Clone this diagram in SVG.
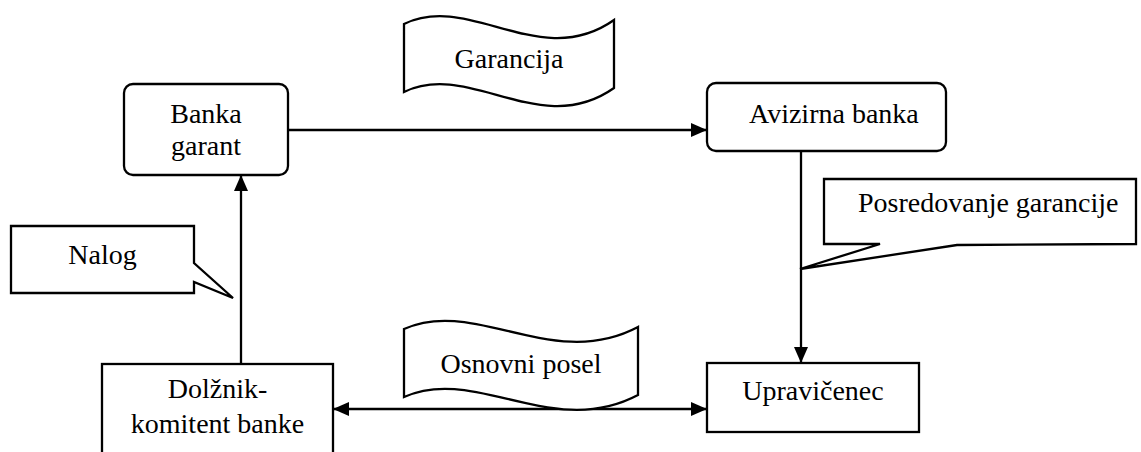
<svg xmlns="http://www.w3.org/2000/svg" width="1141" height="452" viewBox="0 0 1141 452">
  <style>
    .box { fill: #ffffff; stroke: #000000; stroke-width: 2.3; stroke-linejoin: miter; }
    .lbl { font-family: "Liberation Serif", "Times New Roman", serif; font-size: 28px; fill: #000000; }
    .mid { text-anchor: middle; }
    .wire { fill: none; stroke: #000000; stroke-width: 2.3; }
  </style>
  <defs>
    <marker id="head" viewBox="0 0 16 14" refX="16" refY="7" markerWidth="16" markerHeight="14" markerUnits="userSpaceOnUse" orient="auto-start-reverse">
      <path d="M0,0 L16,7 L0,14 Z" fill="#000000"/>
    </marker>
  </defs>

  <rect x="0" y="0" width="1141" height="452" fill="#ffffff"/>

  <!-- connectors -->
  <g id="connectors">
    <line class="wire" x1="288" y1="130" x2="707" y2="130" marker-end="url(#head)"/>
    <line class="wire" x1="801" y1="151" x2="801" y2="363" marker-end="url(#head)"/>
    <line class="wire" x1="241" y1="364" x2="241" y2="175" marker-end="url(#head)"/>
    <line class="wire" x1="333" y1="409" x2="707" y2="409" marker-start="url(#head)" marker-end="url(#head)"/>
  </g>

  <!-- bank issuing the guarantee -->
  <g id="banka-garant">
    <rect class="box" x="124" y="84" width="164" height="91" rx="9" ry="9"/>
    <text class="lbl mid" x="206" y="123">Banka</text>
    <text class="lbl mid" x="206" y="155">garant</text>
  </g>

  <!-- advising bank -->
  <g id="avizirna-banka">
    <rect class="box" x="707" y="83" width="239" height="68" rx="9" ry="9"/>
    <text class="lbl" x="749" y="123">Avizirna banka</text>
  </g>

  <!-- beneficiary -->
  <g id="upravicenec">
    <rect class="box" x="707" y="363" width="212" height="69"/>
    <text class="lbl mid" x="813" y="400">Upravičenec</text>
  </g>

  <!-- principal / bank client -->
  <g id="dolznik">
    <rect class="box" x="102" y="364" width="231" height="100"/>
    <text class="lbl mid" x="217.5" y="398">Dolžnik-</text>
    <text class="lbl mid" x="217.5" y="433">komitent banke</text>
  </g>

  <!-- wave banner: guarantee -->
  <g id="garancija">
    <path class="box" d="M404,24 C470,-8 540,72 614,20 L614,88 C540,140 470,60 404,92 Z"/>
    <text class="lbl mid" x="509" y="68">Garancija</text>
  </g>

  <!-- wave banner: underlying transaction -->
  <g id="osnovni-posel">
    <path class="box" d="M404,329 C475,297 553,372 638,327 L638,395 C553,440 475,365 404,397 Z"/>
    <text class="lbl mid" x="521" y="373">Osnovni posel</text>
  </g>

  <!-- callout: order -->
  <g id="nalog">
    <path class="box" d="M11,226 L194,226 L194,263 L233,298 L194,282 L194,293 L11,293 Z"/>
    <text class="lbl mid" x="102.5" y="264">Nalog</text>
  </g>

  <!-- callout: forwarding of the guarantee -->
  <g id="posredovanje">
    <path class="box" d="M824,179 L1136,179 L1136,244 L957,245 L800,269 L880,244 L824,244 Z"/>
    <text class="lbl" x="858" y="212">Posredovanje garancije</text>
  </g>
</svg>
